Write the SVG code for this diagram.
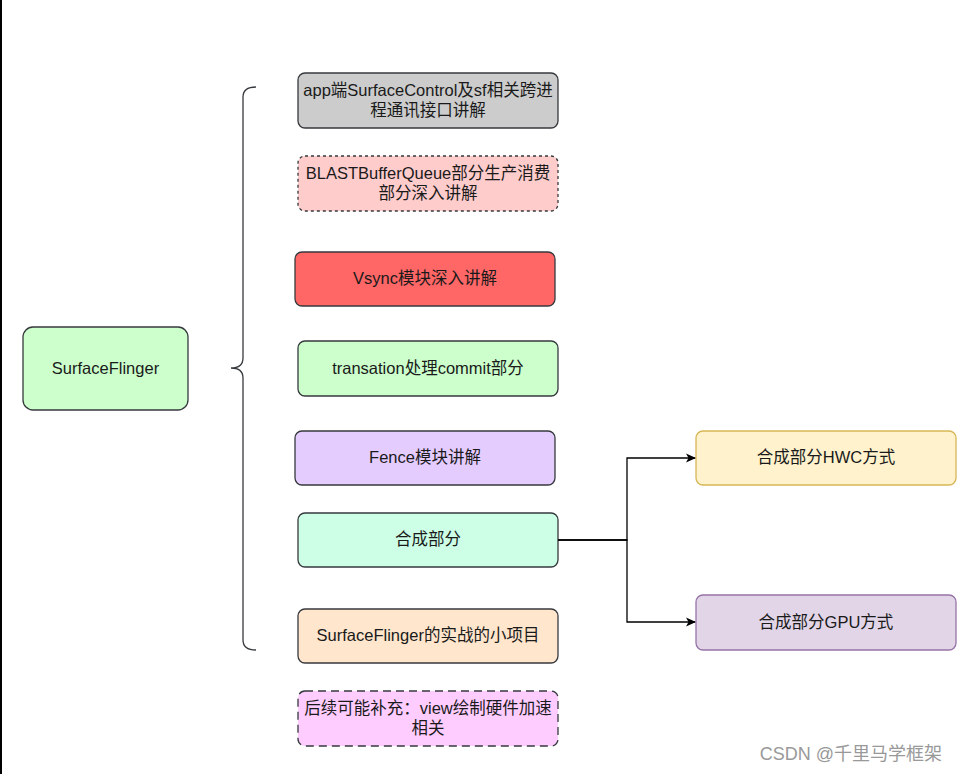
<svg xmlns="http://www.w3.org/2000/svg" width="957" height="774" viewBox="0 0 957 774">
<style>
.n{stroke:#36393d;stroke-width:1.3}
.t{font-family:"Liberation Sans","Noto Sans CJK SC",sans-serif;font-size:16.5px;fill:#1a1a1a;text-anchor:middle}
.c{fill:none;stroke:#000;stroke-width:1.3}
</style>
<defs>
<marker id="ar" markerWidth="10" markerHeight="10" refX="9" refY="5" orient="auto" markerUnits="userSpaceOnUse">
<path d="M0,0.5 L10,5 L0,9.5 L2.5,5 Z" fill="#000"/>
</marker>
</defs>
<rect x="0" y="0" width="957" height="774" fill="#fff"/>
<rect x="0" y="0" width="2" height="774" fill="#000"/>
<g id="sf"><rect class="n" x="23" y="327" width="165" height="83" rx="10" fill="#ccffcc"/><text class="t" x="105.5" y="373.5">SurfaceFlinger</text></g>
<g id="brace"><path d="M256,87 Q243,87 243,97 L243,358 Q243,368 231,368 Q243,368 243,378 L243,640 Q243,650 256,650" fill="none" stroke="#36393d" stroke-width="1.3"/></g>
<g id="app"><rect class="n" x="298" y="73" width="260" height="55" rx="7" fill="#cccccc"/><text class="t" x="428" y="96">app端SurfaceControl及sf相关跨进</text><text class="t" x="428" y="116">程通讯接口讲解</text></g>
<g id="blast"><rect class="n" x="298" y="156" width="260" height="55" rx="7" fill="#ffcccc" stroke-dasharray="3,3"/><text class="t" x="428" y="179">BLASTBufferQueue部分生产消费</text><text class="t" x="428" y="199">部分深入讲解</text></g>
<g id="vsync"><rect class="n" x="295" y="252" width="260" height="54" rx="7" fill="#ff6666"/><text class="t" x="425" y="284">Vsync模块深入讲解</text></g>
<g id="trans"><rect class="n" x="298" y="341" width="260" height="55" rx="7" fill="#ccffcc"/><text class="t" x="428" y="373.5">transation处理commit部分</text></g>
<g id="fence"><rect class="n" x="295" y="431" width="260" height="54" rx="7" fill="#e5ccff"/><text class="t" x="425" y="463">Fence模块讲解</text></g>
<g id="comp"><rect class="n" x="298" y="513" width="260" height="54" rx="7" fill="#ccffe6"/><text class="t" x="428" y="545">合成部分</text></g>
<g id="proj"><rect class="n" x="298" y="609" width="260" height="54" rx="7" fill="#ffe6cc"/><text class="t" x="428" y="641">SurfaceFlinger的实战的小项目</text></g>
<g id="more"><rect class="n" x="298" y="691" width="260" height="55" rx="7" fill="#ffccff" stroke-dasharray="8,5"/><text class="t" x="428" y="714">后续可能补充：view绘制硬件加速</text><text class="t" x="428" y="734">相关</text></g>
<g id="hwc"><rect x="696" y="431" width="260" height="54" rx="7" fill="#fff2cc" stroke="#d6b656" stroke-width="1.3"/><text class="t" x="826" y="463">合成部分HWC方式</text></g>
<g id="gpu"><rect x="696" y="595" width="260" height="55" rx="7" fill="#e1d5e7" stroke="#9673a6" stroke-width="1.3"/><text class="t" x="826" y="627.5">合成部分GPU方式</text></g>
<g id="connectors">
<path class="c" d="M558,540 L627,540 L627,458 L695,458" marker-end="url(#ar)"/>
<path class="c" d="M558,540 L627,540 L627,622 L695,622" marker-end="url(#ar)"/>
</g>
<text x="942" y="760" font-family="'Liberation Sans','Noto Sans CJK SC',sans-serif" font-size="18" fill="#999" text-anchor="end">CSDN @千里马学框架</text>
</svg>
